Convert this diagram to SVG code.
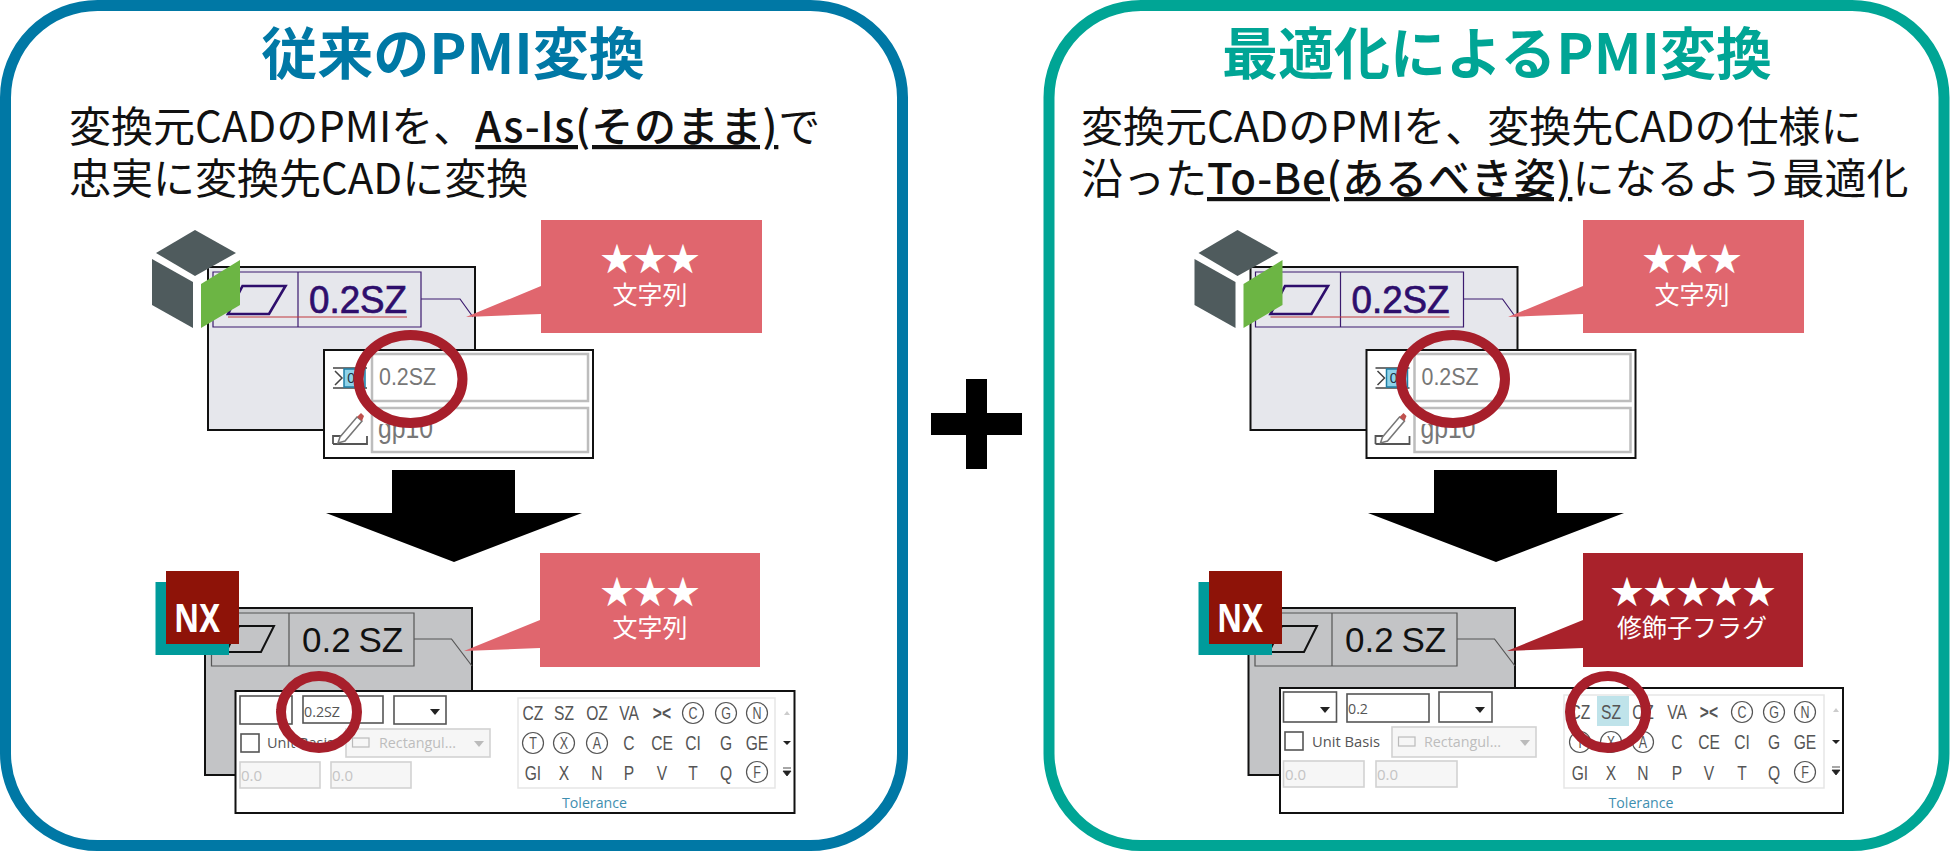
<svg xmlns="http://www.w3.org/2000/svg" width="1950" height="851" viewBox="0 0 1950 851">
<style>
text{font-family:"Noto Sans CJK JP","Noto Sans",sans-serif}
.frame{fill:#fff;stroke-width:11}
.title{font-size:56px;font-weight:700;text-anchor:middle}
.sub{font-size:42px;fill:#111}
.u{font-weight:500;letter-spacing:.85px;text-decoration:underline;text-decoration-skip-ink:none}
.l{font-family:"Liberation Sans",Arial,sans-serif}
.star{font-size:33px;fill:#fff;text-anchor:middle}
.cap{font-size:25px;fill:#fff;text-anchor:middle}
.pk{fill:#E0666E}
.rd{fill:#A9222B}
.ring{fill:none;stroke:#A71F2B;stroke-width:10}
.p1{fill:#E6E7EC;stroke:#111;stroke-width:2}
.p2{fill:#C3C4C6;stroke:#111;stroke-width:2}
.pop{fill:#fff;stroke:#111;stroke-width:2}
.pl{fill:none;stroke:#3B1A6E;stroke-width:1.2}
.gl{fill:none;stroke:#555;stroke-width:1.2}
.fld{fill:#fff;stroke:#BDBDBD;stroke-width:2.5}
.box{fill:#fff;stroke:#555;stroke-width:1.6}
.dis{fill:#F6F6F6;stroke:#D2D2D2;stroke-width:1.6}
.gal{fill:#fff;stroke:#E6E6E6;stroke-width:1.5}
.t{font-family:"Liberation Sans",Arial,sans-serif;font-size:20px;fill:#555;text-anchor:middle}
.c{font-size:16px}
.o{fill:none;stroke:#555;stroke-width:1.2}
.g15{font-family:"Open Sans",sans-serif;font-size:15px}
.arr{fill:#000}
</style>
<defs><clipPath id="gpclip"><rect x="375" y="424" width="100" height="28"/></clipPath></defs>

<g id="frame-left">
<rect class="frame" x="5.5" y="5.5" width="897" height="840" rx="92" stroke="#0078A5"/>
<text class="title" x="453" y="74" fill="#0078A5">従来のPMI変換</text>
<text class="sub" x="69" y="142">変換元CADのPMIを、<tspan class="u">As-Is(そのまま)</tspan>で</text>
<text class="sub" x="69" y="194">忠実に変換先CADに変換</text>
</g>
<g id="frame-right">
<rect class="frame" x="1049" y="5.5" width="895" height="840" rx="92" stroke="#00A595"/>
<text class="title" x="1497" y="74" fill="#00A595">最適化によるPMI変換</text>
<text class="sub" x="1081" y="142">変換元CADのPMIを、変換先CADの仕様に</text>
<text class="sub" x="1081" y="194">沿った<tspan class="u">To-Be(あるべき姿)</tspan>になるよう最適化</text>
</g>

<g id="plus"><path class="arr" d="M966 379h21v34h35v22h-35v34h-21v-34h-35v-22h35z"/></g>

<g id="connectors">
<path class="arr" d="M392 470h123v43h67l-128 49-128-49h66z"/>
<path class="arr" d="M1434 470h123v43h67l-128 49-128-49h66z"/>
</g>

<g id="source-left">
<rect class="p1" x="208" y="267" width="267" height="163"/>
<path class="pl" d="M213 272h208v55H213zM298 272v55M421 299h39l13 18"/>
<path d="M285.500 286h-43l-14.500 28h41z" fill="none" stroke="#2E0E6C" stroke-width="2.600"/>
<text class="l" x="309" y="313" font-size="38" textLength="98" lengthAdjust="spacingAndGlyphs" fill="#2E0E6C" stroke="#2E0E6C" stroke-width=".7">0.2SZ</text>
<path d="M228 317H407" stroke="#C0393C" stroke-width="1.200"/>
<path d="M195 230l41 23-41 23-39-23z" fill="#4F5B5D"/>
<path d="M152 259l41 23v46l-41-23z" fill="#4F5B5D"/>
<path d="M201 284l39-24v45l-39 23z" fill="#6CB544"/>
<rect class="pop" x="324" y="350" width="269" height="108"/>
<rect class="fld" x="372" y="354" width="216" height="47"/>
<rect class="fld" x="372" y="408" width="216" height="44"/>
<text class="l" x="379" y="385" font-size="24" textLength="57" lengthAdjust="spacingAndGlyphs" fill="#777">0.2SZ</text>
<text class="l" x="378" y="438" font-size="30" textLength="55" lengthAdjust="spacingAndGlyphs" fill="#777" clip-path="url(#gpclip)">gp10</text>
<path d="M333 368h34M333 388h34M335 371l7 7-7 7" fill="none" stroke="#444" stroke-width="1.500"/>
<rect x="344" y="369" width="21" height="18" fill="#8FD3EA" stroke="#1E7FA6" stroke-width="1.500"/>
<text class="l" x="355" y="383" font-size="14" text-anchor="middle" fill="#234">01</text>
<path d="M333 444h34v-8M333 444v-8h8" fill="none" stroke="#555" stroke-width="1.800"/>
<path d="M340 437l17-20 5 4-17 20-7 2z" fill="#fff" stroke="#777" stroke-width="1.500"/>
<path d="M357 417l5 4 2-5-3-3z" fill="#C0504D"/>
<ellipse class="ring" cx="410.500" cy="379" rx="52" ry="44"/>
</g>
<g id="callout-left-top">
<path class="pk" d="M541 220h221v113H541v-19l-75 3 75-31z"/>
<text class="star" x="650" y="271">★★★</text>
<text class="cap" x="650" y="304">文字列</text>
</g>

<g id="target-left">
<rect class="p2" x="205" y="608" width="267" height="167"/>
<path class="gl" d="M211.500 613H414v53H211.500zM289 613v53M414 639h37.500l20.500 27"/>
<path d="M274 626h-35l-13 26h35z" fill="none" stroke="#111" stroke-width="2"/>
<text class="l" x="302" y="652" font-size="35" word-spacing="-2" fill="#111">0.2 SZ</text>
<rect x="155.500" y="582" width="73.500" height="73" fill="#009B9B"/>
<rect x="166" y="571" width="73" height="73" fill="#8E1308"/>
<text x="197" y="632" font-size="40" font-weight="700" text-anchor="middle" fill="#fff" textLength="46" lengthAdjust="spacingAndGlyphs" style="font-family:'Noto Sans',sans-serif">NX</text>
<rect class="pop" x="235.500" y="691" width="559" height="122"/>
<rect class="box" x="240" y="696" width="52" height="28"/>
<path d="M276 709h10l-5 6z" fill="#222"/>
<rect class="box" x="303" y="696" width="80" height="27"/>
<text class="g15" x="304" y="717" fill="#555" textLength="36" lengthAdjust="spacingAndGlyphs">0.2SZ</text>
<rect class="box" x="394" y="696" width="52" height="28"/>
<path d="M430 709h10l-5 6z" fill="#222"/>
<rect class="box" x="241" y="734" width="18" height="18"/>
<text class="g15" x="267" y="748" fill="#555" textLength="67" lengthAdjust="spacingAndGlyphs">Unit Basis</text>
<rect class="dis" x="346" y="729" width="144" height="28"/>
<rect x="352.500" y="738" width="16.500" height="9" fill="none" stroke="#BBB" stroke-width="1.200"/>
<text class="g15" x="379" y="748" fill="#BDBDBD" textLength="77" lengthAdjust="spacingAndGlyphs">Rectangul...</text>
<path d="M474 741h10l-5 6z" fill="#BBB"/>
<rect class="dis" x="240" y="762" width="80" height="26"/>
<rect class="dis" x="331" y="762" width="80" height="26"/>
<text class="g15" x="241" y="781" fill="#C4C4C4">0.0</text>
<text class="g15" x="332" y="781" fill="#C4C4C4">0.0</text>
<rect class="gal" x="518" y="698" width="257" height="90"/>
<text class="t" transform="scale(.78 1)"><tspan x="683.300" y="720">CZ</tspan><tspan x="723.100" y="720">SZ</tspan><tspan x="765.400" y="720">OZ</tspan><tspan x="806.400" y="720">VA</tspan><tspan x="848.700" y="720" font-weight="700">&gt;&lt;</tspan><tspan class="c" x="888.500" y="719">C</tspan><tspan class="c" x="930.800" y="719">G</tspan><tspan class="c" x="970.500" y="719">N</tspan></text>
<text class="t" transform="scale(.78 1)"><tspan class="c" x="683.300" y="749">T</tspan><tspan class="c" x="723.100" y="749">X</tspan><tspan class="c" x="765.400" y="749">A</tspan><tspan x="806.400" y="750">C</tspan><tspan x="848.700" y="750">CE</tspan><tspan x="888.500" y="750">CI</tspan><tspan x="930.800" y="750">G</tspan><tspan x="970.500" y="750">GE</tspan></text>
<text class="t" transform="scale(.78 1)"><tspan x="683.300" y="780">GI</tspan><tspan x="723.100" y="780">X</tspan><tspan x="765.400" y="780">N</tspan><tspan x="806.400" y="780">P</tspan><tspan x="848.700" y="780">V</tspan><tspan x="888.500" y="780">T</tspan><tspan x="930.800" y="780">Q</tspan><tspan class="c" x="970.500" y="778">F</tspan></text>
<circle class="o" cx="693" cy="713" r="10.500"/><circle class="o" cx="726" cy="713" r="10.500"/><circle class="o" cx="757" cy="713" r="10.500"/>
<circle class="o" cx="533" cy="743" r="10.500"/><circle class="o" cx="564" cy="743" r="10.500"/><circle class="o" cx="597" cy="743" r="10.500"/><circle class="o" cx="757" cy="772" r="10.500"/>
<path d="M784 715l3-4 3 4z" fill="#CCC"/><path d="M783 741h8l-4 4z" fill="#222"/><path d="M783 768h8M783 771h8l-4 5z" fill="#222" stroke="#222" stroke-width=".8"/>
<text class="g15" x="594.500" y="808" text-anchor="middle" fill="#3F8FB0" textLength="65" lengthAdjust="spacingAndGlyphs">Tolerance</text>
<ellipse class="ring" cx="319" cy="712" rx="38" ry="36"/>
</g>
<g id="callout-left-bottom">
<path class="pk" d="M540 553h220v114H540v-19l-76 3 76-31z"/>
<text class="star" x="650" y="604">★★★</text>
<text class="cap" x="650" y="637">文字列</text>
</g>

<g id="source-right" transform="translate(1042.500 0)">
<rect class="p1" x="208" y="267" width="267" height="163"/>
<path class="pl" d="M213 272h208v55H213zM298 272v55M421 299h39l13 18"/>
<path d="M285.500 286h-43l-14.500 28h41z" fill="none" stroke="#2E0E6C" stroke-width="2.600"/>
<text class="l" x="309" y="313" font-size="38" textLength="98" lengthAdjust="spacingAndGlyphs" fill="#2E0E6C" stroke="#2E0E6C" stroke-width=".7">0.2SZ</text>
<path d="M228 317H407" stroke="#C0393C" stroke-width="1.200"/>
<path d="M195 230l41 23-41 23-39-23z" fill="#4F5B5D"/>
<path d="M152 259l41 23v46l-41-23z" fill="#4F5B5D"/>
<path d="M201 284l39-24v45l-39 23z" fill="#6CB544"/>
<rect class="pop" x="324" y="350" width="269" height="108"/>
<rect class="fld" x="372" y="354" width="216" height="47"/>
<rect class="fld" x="372" y="408" width="216" height="44"/>
<text class="l" x="379" y="385" font-size="24" textLength="57" lengthAdjust="spacingAndGlyphs" fill="#777">0.2SZ</text>
<text class="l" x="378" y="438" font-size="30" textLength="55" lengthAdjust="spacingAndGlyphs" fill="#777" clip-path="url(#gpclip)">gp10</text>
<path d="M333 368h34M333 388h34M335 371l7 7-7 7" fill="none" stroke="#444" stroke-width="1.500"/>
<rect x="344" y="369" width="21" height="18" fill="#8FD3EA" stroke="#1E7FA6" stroke-width="1.500"/>
<text class="l" x="355" y="383" font-size="14" text-anchor="middle" fill="#234">01</text>
<path d="M333 444h34v-8M333 444v-8h8" fill="none" stroke="#555" stroke-width="1.800"/>
<path d="M340 437l17-20 5 4-17 20-7 2z" fill="#fff" stroke="#777" stroke-width="1.500"/>
<path d="M357 417l5 4 2-5-3-3z" fill="#C0504D"/>
<ellipse class="ring" cx="410.500" cy="379" rx="52" ry="44"/>
</g>
<g id="callout-right-top">
<path class="pk" d="M1583 220h221v113H1583v-19l-75 3 75-31z"/>
<text class="star" x="1692" y="271">★★★</text>
<text class="cap" x="1692" y="304">文字列</text>
</g>

<g id="target-right">
<rect class="p2" x="1248.500" y="608" width="266.500" height="167"/>
<path class="gl" d="M1255 613H1457v53H1255zM1332 613v53M1457 639h37.500l20.500 27"/>
<path d="M1317 626h-35l-13 26h35z" fill="none" stroke="#111" stroke-width="2"/>
<text class="l" x="1345" y="652" font-size="35" word-spacing="-2" fill="#111">0.2 SZ</text>
<rect x="1198.500" y="582" width="73.500" height="73" fill="#009B9B"/>
<rect x="1209" y="571" width="73" height="73" fill="#8E1308"/>
<text x="1240" y="632" font-size="40" font-weight="700" text-anchor="middle" fill="#fff" textLength="46" lengthAdjust="spacingAndGlyphs" style="font-family:'Noto Sans',sans-serif">NX</text>
<rect class="pop" x="1280" y="688" width="563" height="125"/>
<rect class="box" x="1283.500" y="692" width="53" height="30"/>
<path d="M1320 707h10l-5 6z" fill="#222"/>
<rect class="box" x="1347" y="694" width="82" height="28"/>
<text class="g15" x="1348" y="714" fill="#555" textLength="20" lengthAdjust="spacingAndGlyphs">0.2</text>
<rect class="box" x="1439" y="692" width="53" height="30"/>
<path d="M1475 707h10l-5 6z" fill="#222"/>
<rect class="box" x="1285" y="732" width="18" height="18"/>
<text class="g15" x="1312" y="747" fill="#555" textLength="68" lengthAdjust="spacingAndGlyphs">Unit Basis</text>
<rect class="dis" x="1392" y="727" width="144" height="30"/>
<rect x="1398.500" y="737" width="16.500" height="9" fill="none" stroke="#BBB" stroke-width="1.200"/>
<text class="g15" x="1424" y="747" fill="#BDBDBD" textLength="77" lengthAdjust="spacingAndGlyphs">Rectangul...</text>
<path d="M1520 740h10l-5 6z" fill="#BBB"/>
<rect class="dis" x="1283.500" y="761" width="80.500" height="26"/>
<rect class="dis" x="1376" y="761" width="81" height="26"/>
<text class="g15" x="1285" y="780" fill="#C4C4C4">0.0</text>
<text class="g15" x="1377" y="780" fill="#C4C4C4">0.0</text>
<rect class="gal" x="1564" y="695" width="260" height="93"/>
<rect x="1597" y="696" width="32" height="30" fill="#BFE3EA"/>
<text class="t" transform="scale(.78 1)"><tspan x="2025.600" y="719">CZ</tspan><tspan x="2065.400" y="719">SZ</tspan><tspan x="2106.400" y="719">OZ</tspan><tspan x="2150" y="719">VA</tspan><tspan x="2191" y="719" font-weight="700">&gt;&lt;</tspan><tspan class="c" x="2233.300" y="718">C</tspan><tspan class="c" x="2274.400" y="718">G</tspan><tspan class="c" x="2314.100" y="718">N</tspan></text>
<text class="t" transform="scale(.78 1)"><tspan class="c" x="2025.600" y="748">T</tspan><tspan class="c" x="2065.400" y="748">X</tspan><tspan class="c" x="2106.400" y="748">A</tspan><tspan x="2150" y="749">C</tspan><tspan x="2191" y="749">CE</tspan><tspan x="2233.300" y="749">CI</tspan><tspan x="2274.400" y="749">G</tspan><tspan x="2314.100" y="749">GE</tspan></text>
<text class="t" transform="scale(.78 1)"><tspan x="2025.600" y="780">GI</tspan><tspan x="2065.400" y="780">X</tspan><tspan x="2106.400" y="780">N</tspan><tspan x="2150" y="780">P</tspan><tspan x="2191" y="780">V</tspan><tspan x="2233.300" y="780">T</tspan><tspan x="2274.400" y="780">Q</tspan><tspan class="c" x="2314.100" y="778">F</tspan></text>
<circle class="o" cx="1742" cy="712" r="10.500"/><circle class="o" cx="1774" cy="712" r="10.500"/><circle class="o" cx="1805" cy="712" r="10.500"/>
<circle class="o" cx="1580" cy="742" r="10.500"/><circle class="o" cx="1611" cy="742" r="10.500"/><circle class="o" cx="1643" cy="742" r="10.500"/><circle class="o" cx="1805" cy="772" r="10.500"/>
<path d="M1833 712l3-4 3 4z" fill="#CCC"/><path d="M1832 740h8l-4 4z" fill="#222"/><path d="M1832 767h8M1832 770h8l-4 5z" fill="#222" stroke="#222" stroke-width=".8"/>
<text class="g15" x="1641" y="808" text-anchor="middle" fill="#3F8FB0" textLength="65" lengthAdjust="spacingAndGlyphs">Tolerance</text>
<ellipse class="ring" cx="1608" cy="712" rx="38" ry="36"/>
</g>
<g id="callout-right-bottom">
<path class="rd" d="M1583 553h220v114H1583v-19l-76 3 76-31z"/>
<text class="star" x="1693" y="604">★★★★★</text>
<text class="cap" x="1692" y="637">修飾子フラグ</text>
</g>
</svg>
